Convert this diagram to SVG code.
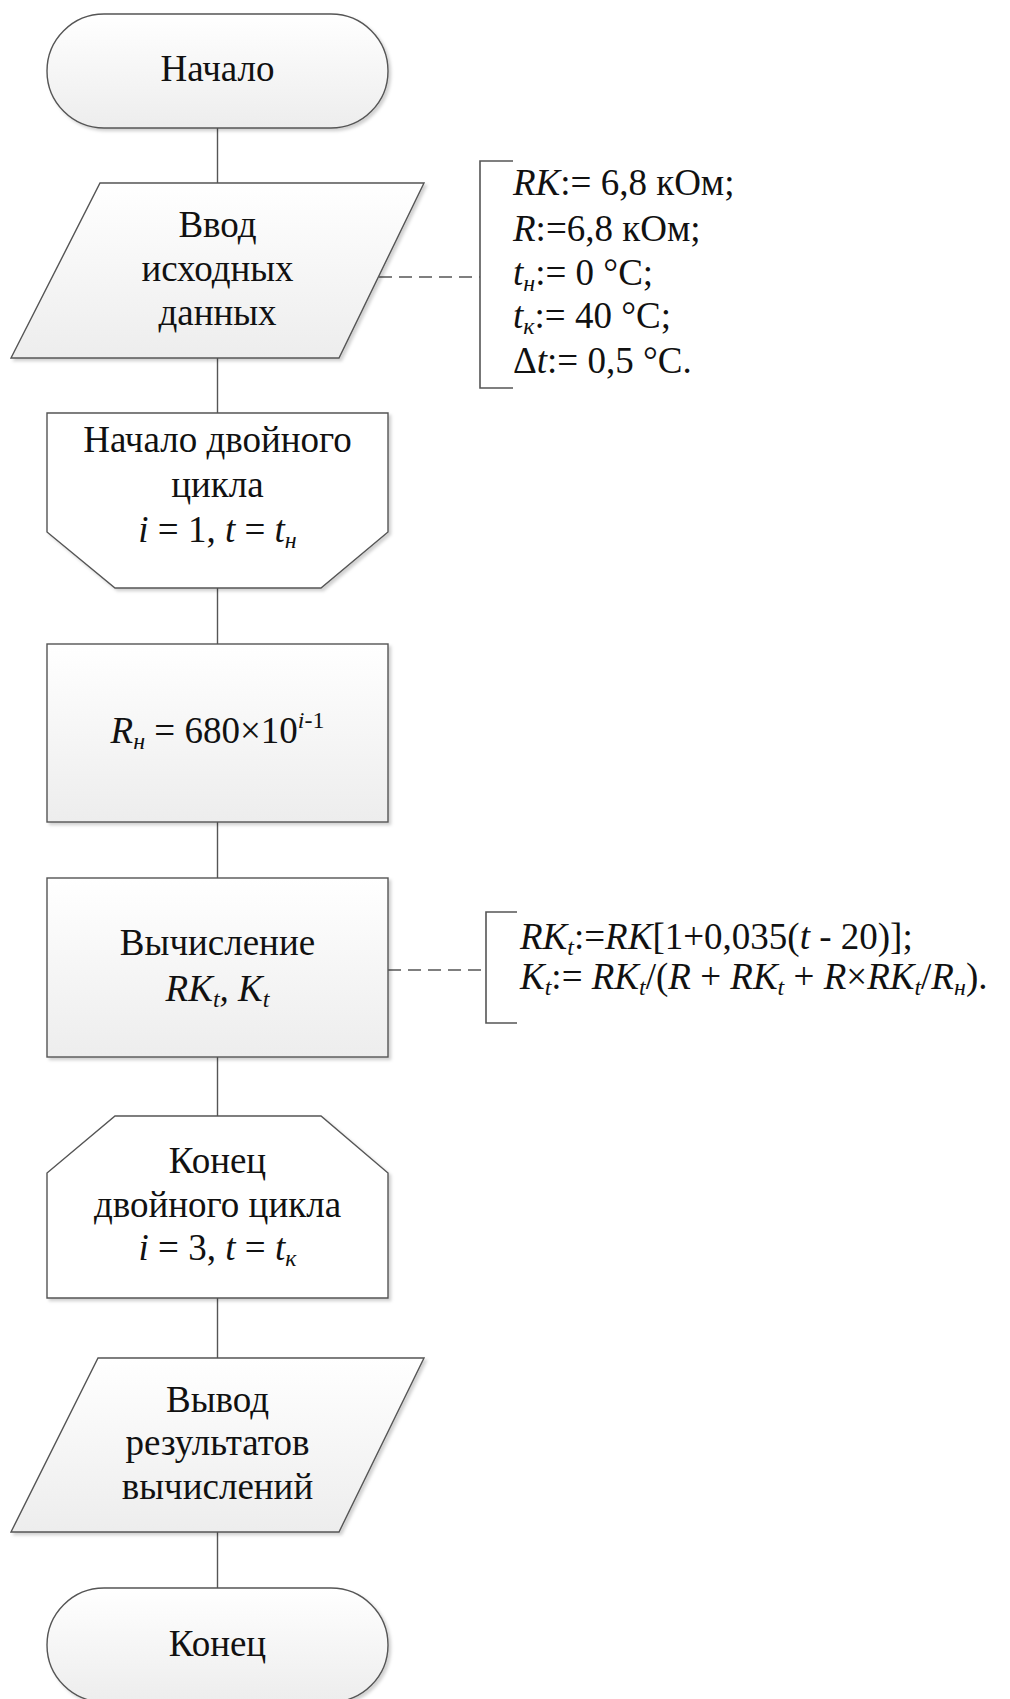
<svg xmlns="http://www.w3.org/2000/svg" width="1010" height="1699" viewBox="0 0 1010 1699">
<style>
.shape{stroke:#555;stroke-width:1.4;}
.grad{fill:url(#g);}
.plain{fill:#fff;}
.conn{stroke:#555;stroke-width:1.4;fill:none;}
.dash{stroke:#555;stroke-width:1.3;fill:none;stroke-dasharray:13 7;}
.brk{stroke:#555;stroke-width:1.6;fill:none;}
text{font-family:"Liberation Serif","Times New Roman",serif;font-size:37px;fill:#111;}
.c{text-anchor:middle;}
.i{font-style:italic;}
.s{font-size:24px;font-style:italic;}
</style>
<defs>
<linearGradient id="g" x1="0" y1="0" x2="0" y2="1">
<stop offset="0" stop-color="#ffffff"/>
<stop offset="1" stop-color="#ededed"/>
</linearGradient>
<filter id="sh" x="-10%" y="-10%" width="130%" height="130%">
<feDropShadow dx="2.5" dy="2.5" stdDeviation="1.5" flood-color="#000" flood-opacity="0.18"/>
</filter>
</defs>
<rect width="1010" height="1699" fill="#fff"/>

<g id="connectors">
<line class="conn" x1="217.5" y1="128" x2="217.5" y2="183"/>
<line class="conn" x1="217.5" y1="358" x2="217.5" y2="413"/>
<line class="conn" x1="217.5" y1="588" x2="217.5" y2="644"/>
<line class="conn" x1="217.5" y1="822" x2="217.5" y2="878"/>
<line class="conn" x1="217.5" y1="1057" x2="217.5" y2="1116"/>
<line class="conn" x1="217.5" y1="1298" x2="217.5" y2="1358"/>
<line class="conn" x1="217.5" y1="1532" x2="217.5" y2="1588"/>
<line class="dash" x1="379" y1="277" x2="480" y2="277"/>
<line class="dash" x1="388" y1="970" x2="486" y2="970"/>
</g>

<g id="start">
<rect class="shape grad" filter="url(#sh)" x="47" y="14" width="341" height="114" rx="57"/>
<text class="c" x="217.5" y="81">Начало</text>
</g>

<g id="input">
<polygon class="shape grad" filter="url(#sh)" points="100,183 424,183 339,358 11,358"/>
<text class="c" x="217.5" y="237">Ввод</text>
<text class="c" x="217.5" y="281">исходных</text>
<text class="c" x="217.5" y="325">данных</text>
</g>

<g id="note-input">
<path class="brk" d="M513,161 H480 V388 H513"/>
<text x="513" y="195"><tspan class="i">RK</tspan>:= 6,8 кОм;</text>
<text x="513" y="241"><tspan class="i">R</tspan>:=6,8 кОм;</text>
<text x="513" y="285"><tspan class="i">t</tspan><tspan class="s" dy="6">н</tspan><tspan dy="-6">:= 0 °C;</tspan></text>
<text x="513" y="328"><tspan class="i">t</tspan><tspan class="s" dy="6">к</tspan><tspan dy="-6">:= 40 °C;</tspan></text>
<text x="513" y="373">Δ<tspan class="i">t</tspan>:= 0,5 °C.</text>
</g>

<g id="loop-start">
<polygon class="shape plain" filter="url(#sh)" points="47,413 388,413 388,532 321,588 115,588 47,532"/>
<text class="c" x="217.5" y="452">Начало двойного</text>
<text class="c" x="217.5" y="497">цикла</text>
<text class="c" x="217.5" y="542"><tspan class="i">i</tspan> = 1, <tspan class="i">t</tspan> = <tspan class="i">t</tspan><tspan class="s" dy="6">н</tspan></text>
</g>

<g id="rn">
<rect class="shape grad" filter="url(#sh)" x="47" y="644" width="341" height="178"/>
<text class="c" x="217.5" y="743"><tspan class="i">R</tspan><tspan class="s" dy="6">н</tspan><tspan dy="-6"> = 680×10</tspan><tspan class="s" dy="-15">i</tspan><tspan style="font-size:24px" dy="0">-1</tspan></text>
</g>

<g id="calc">
<rect class="shape grad" filter="url(#sh)" x="47" y="878" width="341" height="179"/>
<text class="c" x="217.5" y="955">Вычисление</text>
<text class="c" x="217.5" y="1001"><tspan class="i">RK</tspan><tspan class="s" dy="6">t</tspan><tspan class="i" dy="-6">, K</tspan><tspan class="s" dy="6">t</tspan></text>
</g>

<g id="note-calc">
<path class="brk" d="M517,912 H486 V1023 H517"/>
<text x="520" y="949"><tspan class="i">RK</tspan><tspan class="s" dy="6">t</tspan><tspan dy="-6">:=</tspan><tspan class="i">RK</tspan>[1+0,035(<tspan class="i">t</tspan> - 20)];</text>
<text x="520" y="989"><tspan class="i">K</tspan><tspan class="s" dy="6">t</tspan><tspan dy="-6">:= </tspan><tspan class="i">RK</tspan><tspan class="s" dy="6">t</tspan><tspan dy="-6">/(</tspan><tspan class="i">R</tspan> + <tspan class="i">RK</tspan><tspan class="s" dy="6">t</tspan><tspan dy="-6"> + </tspan><tspan class="i">R</tspan>×<tspan class="i">RK</tspan><tspan class="s" dy="6">t</tspan><tspan dy="-6">/</tspan><tspan class="i">R</tspan><tspan class="s" dy="6">н</tspan><tspan dy="-6">).</tspan></text>
</g>

<g id="loop-end">
<polygon class="shape plain" filter="url(#sh)" points="115,1116 321,1116 388,1173 388,1298 47,1298 47,1173"/>
<text class="c" x="217.5" y="1173">Конец</text>
<text class="c" x="217.5" y="1217">двойного цикла</text>
<text class="c" x="217.5" y="1260"><tspan class="i">i</tspan> = 3, <tspan class="i">t</tspan> = <tspan class="i">t</tspan><tspan class="s" dy="6">к</tspan></text>
</g>

<g id="output">
<polygon class="shape grad" filter="url(#sh)" points="98,1358 424,1358 339,1532 11,1532"/>
<text class="c" x="217.5" y="1412">Вывод</text>
<text class="c" x="217.5" y="1455">результатов</text>
<text class="c" x="217.5" y="1499">вычислений</text>
</g>

<g id="end">
<rect class="shape grad" filter="url(#sh)" x="47" y="1588" width="341" height="114" rx="57"/>
<text class="c" x="217.5" y="1656">Конец</text>
</g>
</svg>
